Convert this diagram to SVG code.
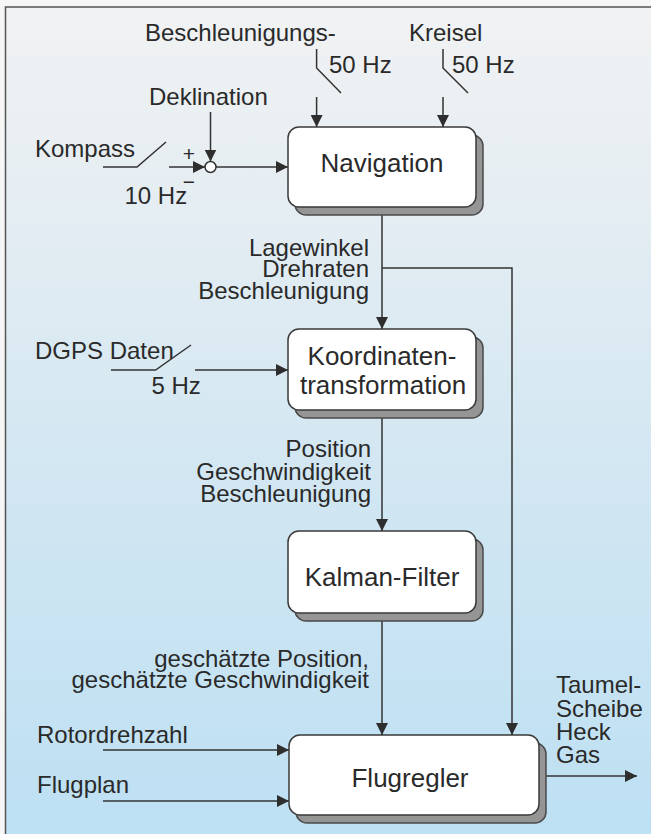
<svg xmlns="http://www.w3.org/2000/svg" width="651" height="834" viewBox="0 0 651 834">
<defs>
<linearGradient id="bg" x1="0" y1="0" x2="0" y2="1">
<stop offset="0" stop-color="#f1f2f3"/>
<stop offset="0.25" stop-color="#e4edf2"/>
<stop offset="0.6" stop-color="#d0e6f2"/>
<stop offset="1" stop-color="#bde0f3"/>
</linearGradient>
<marker id="ah" markerUnits="userSpaceOnUse" markerWidth="12" markerHeight="12" viewBox="0 0 12 12" refX="12" refY="6" orient="auto">
<path d="M0,0 L12,6 L0,12 z" fill="#2e2e2e"/>
</marker>
</defs>
<style>
.t{font-family:"Liberation Sans",Arial,sans-serif;font-size:24px;fill:#2a2a2a}
.b{font-family:"Liberation Sans",Arial,sans-serif;font-size:26px;fill:#2a2a2a;text-anchor:middle}
.r{text-anchor:end}
.box{fill:#ffffff;stroke:#3a3a3a;stroke-width:1.5}
.sh{fill:#959595;stroke:#4a4a4a;stroke-width:1.5}
.ln{fill:none;stroke:#333333;stroke-width:1.5}
.ar{fill:none;stroke:#333333;stroke-width:1.5;marker-end:url(#ah)}
</style>
<rect x="0" y="0" width="651" height="834" fill="#f6f6f6"/>
<rect x="5.5" y="7" width="646" height="827" fill="url(#bg)"/>
<path d="M5.5,834 L5.5,7 L651,7" fill="none" stroke="#555" stroke-width="1.5"/>

<g id="labels">
<text class="t" x="145" y="41">Beschleunigungs-</text>
<text class="t" x="409" y="41">Kreisel</text>
<text class="t" x="329" y="73">50 Hz</text>
<text class="t" x="452" y="73">50 Hz</text>
<text class="t" x="149" y="105">Deklination</text>
<text class="t" x="35" y="157">Kompass</text>
<text class="t" x="189" y="160.5" style="font-size:21px;text-anchor:middle">+</text>
<text class="t" x="189" y="189" style="font-size:21px;text-anchor:middle">−</text>
<text class="t" x="124.5" y="204">10 Hz</text>
<text class="t r" x="369" y="256">Lagewinkel</text>
<text class="t r" x="369" y="277">Drehraten</text>
<text class="t r" x="369" y="299">Beschleunigung</text>
<text class="t" x="35" y="359">DGPS Daten</text>
<text class="t" x="151.5" y="394">5 Hz</text>
<text class="t r" x="371" y="457">Position</text>
<text class="t r" x="371" y="480">Geschwindigkeit</text>
<text class="t r" x="371" y="502">Beschleunigung</text>
<text class="t r" x="369" y="667">geschätzte Position,</text>
<text class="t r" x="369" y="688">geschätzte Geschwindigkeit</text>
<text class="t" x="37" y="743">Rotordrehzahl</text>
<text class="t" x="37" y="793">Flugplan</text>
<text class="t" x="556" y="693">Taumel-</text>
<text class="t" x="556" y="717">Scheibe</text>
<text class="t" x="556" y="740">Heck</text>
<text class="t" x="556" y="763">Gas</text>
</g>

<g id="connectors">
<polyline class="ln" points="316.6,49 316.6,68 341,93"/>
<polyline class="ln" points="443,49 443,68 468,93"/>
<line class="ar" x1="316.6" y1="97" x2="316.6" y2="127"/>
<line class="ar" x1="443" y1="97" x2="443" y2="127"/>
<line class="ar" x1="210.5" y1="112" x2="210.5" y2="161.5"/>
<polyline class="ln" points="103,167 137,167 166,142"/>
<line class="ar" x1="169" y1="167" x2="205" y2="167"/>
<line class="ar" x1="216" y1="167" x2="288" y2="167"/>
<line class="ar" x1="382" y1="208" x2="382" y2="329"/>
<polyline class="ar" points="382,268 512,268 512,735"/>
<polyline class="ln" points="111,370 155.6,370 191,345"/>
<line class="ar" x1="195" y1="370" x2="288" y2="370"/>
<line class="ar" x1="382" y1="410" x2="382" y2="531"/>
<line class="ar" x1="382" y1="613" x2="382" y2="735"/>
<line class="ar" x1="103" y1="750" x2="289" y2="750"/>
<line class="ar" x1="103" y1="801" x2="289" y2="801"/>
<line class="ar" x1="539" y1="776" x2="637" y2="776"/>
</g>

<g id="sum">
<circle cx="210.5" cy="167" r="5.5" fill="#ffffff" stroke="#333" stroke-width="1.5"/>
</g>

<g id="navigation">
<rect class="sh" x="295" y="135" width="188" height="80" rx="11"/>
<rect class="box" x="288" y="127" width="188" height="80" rx="11"/>
<text class="b" x="382" y="172">Navigation</text>
</g>
<g id="koordinaten">
<rect class="sh" x="295" y="337" width="188" height="81" rx="11"/>
<rect class="box" x="288" y="329" width="188" height="81" rx="11"/>
<text class="b" x="382" y="365">Koordinaten-</text>
<text class="b" x="383" y="394">transformation</text>
</g>
<g id="kalman">
<rect class="sh" x="295" y="539" width="188" height="82" rx="11"/>
<rect class="box" x="288" y="531" width="188" height="82" rx="11"/>
<text class="b" x="382" y="586">Kalman-Filter</text>
</g>
<g id="flugregler">
<rect class="sh" x="296" y="743" width="250" height="80" rx="11"/>
<rect class="box" x="289" y="735" width="250" height="80" rx="11"/>
<text class="b" x="410" y="787">Flugregler</text>
</g>
</svg>
